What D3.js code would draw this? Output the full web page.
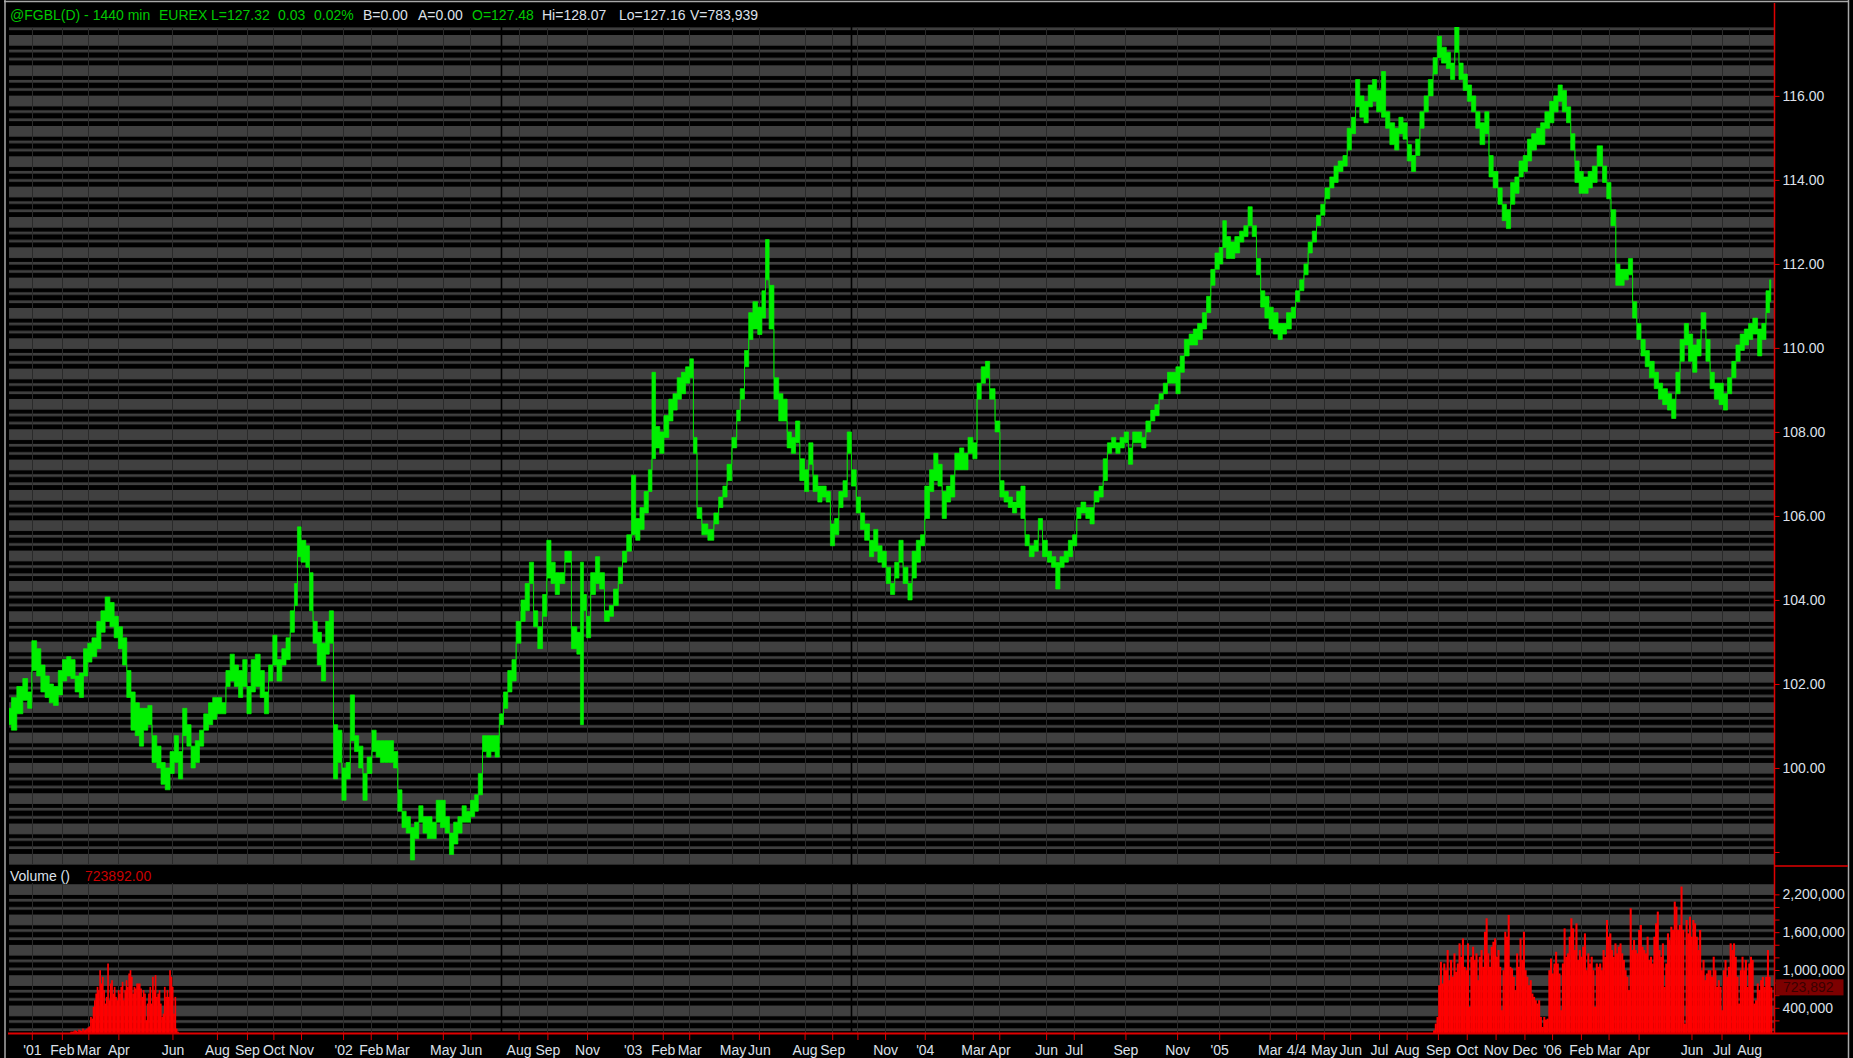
<!DOCTYPE html>
<html>
<head>
<meta charset="utf-8">
<script src="https://cdn.jsdelivr.net/npm/d3@7"></script>
<style>
  html, body { margin: 0; padding: 0; background: #000; overflow: hidden; }
  svg { display: block; }
  text { font-family: "Liberation Sans", Arial, sans-serif; font-size: 14px; }
</style>
</head>
<body>
<svg id="chart" width="1853" height="1058"></svg>
<script>

// ---- data ----

var totalBars = 1467

// [bar index, label] of the month ticks on the time axis
var monthTicks = [
  [19,"'01"],[44,"Feb"],[66,"Mar"],[91,"Apr"],[136,"Jun"],[173,"Aug"],[198,"Sep"],[220,"Oct"],[243,"Nov"],
  [278,"'02"],[301,"Feb"],[323,"Mar"],[361,"May"],[384,"Jun"],[424,"Aug"],[448,"Sep"],[481,"Nov"],
  [519,"'03"],[544,"Feb"],[566,"Mar"],[602,"May"],[624,"Jun"],[662,"Aug"],[685,"Sep"],[706,""],[729,"Nov"],
  [762,"'04"],[802,"Mar"],[824,"Apr"],[863,"Jun"],[886,"Jul"],[929,"Sep"],[972,"Nov"],
  [1007,"'05"],[1049,"Mar"],[1071,"4/4"],[1094,"May"],[1116,"Jun"],[1140,"Jul"],[1163,"Aug"],[1189,"Sep"],
  [1213,"Oct"],[1237,"Nov"],[1261,"Dec"],
  [1284,"'06"],[1308,"Feb"],[1331,"Mar"],[1356,"Apr"],[1400,"Jun"],[1425,"Jul"],[1448,"Aug"]
]

// bars where the continuous contract rolls (black separators)
var sessionBreaks = [409, 701]

var priceTicks = [98, 100, 102, 104, 106, 108, 110, 112, 114, 116]
var priceLabelMin = 100

var volTicks = [200000, 400000, 600000, 800000, 1000000, 1200000, 1400000, 1600000, 1800000, 2000000, 2200000]
var volLabels = [400000, 1000000, 1600000, 2200000]
var lastVolume = 723892

// sampled bars: [bar index, high, low]
var priceBars = [
  [0,101.42,101.03],[4,101.68,100.90],[9,101.94,101.29],[14,102.13,101.61],[17,101.81,101.42],
  [21,103.03,102.32],[25,102.84,102.19],[28,102.45,101.81],[32,102.19,101.68],[35,102.00,101.55],
  [39,101.94,101.49],[43,102.32,101.74],[46,102.58,102.07],[50,102.65,102.19],[53,102.58,102.13],
  [57,102.19,101.81],[60,102.26,101.68],[64,102.84,102.19],[67,102.97,102.52],[71,103.10,102.65],
  [75,103.49,102.84],[78,103.74,103.23],[82,104.07,103.49],[86,103.94,103.36],[89,103.61,103.10],
  [93,103.36,102.84],[96,103.10,102.45],[100,102.32,101.68],[103,101.81,100.90],[107,101.55,100.77],
  [110,101.42,100.52],[114,101.42,100.90],[117,101.49,101.03],[121,100.77,100.13],[125,100.52,100.00],
  [128,100.13,99.61],[132,100.00,99.48],[136,100.39,99.87],[139,100.77,100.13],[143,100.39,99.74],
  [146,101.42,100.77],[150,101.03,100.52],[153,100.52,100.00],[157,100.65,100.13],[160,100.90,100.52],
  [164,101.29,100.90],[168,101.55,101.03],[171,101.68,101.16],[175,101.68,101.29],[179,101.55,101.29],
  [182,102.32,101.94],[186,102.71,102.07],[189,102.45,101.94],[193,102.32,101.68],[196,102.58,101.94],
  [200,101.94,101.29],[203,102.58,101.81],[207,102.71,101.94],[211,102.32,101.68],[214,101.81,101.29],
  [218,102.45,102.07],[221,103.16,102.45],[225,102.58,102.07],[229,102.84,102.45],[232,103.10,102.58],
  [236,103.74,103.23],[239,104.39,103.87],[241,105.74,105.03],[245,105.42,104.90],[249,105.29,104.78],
  [251,104.65,103.74],[255,103.49,102.97],[258,103.23,102.45],[262,102.97,102.07],[265,103.49,102.71],
  [268,103.74,102.97],[272,101.03,99.74],[275,100.90,100.13],[279,100.00,99.23],[282,100.13,99.74],
  [286,101.74,100.65],[289,100.77,100.39],[293,100.52,100.00],[296,99.87,99.23],[300,100.26,99.87],
  [304,100.90,100.39],[307,100.65,100.26],[311,100.65,100.13],[314,100.65,100.13],[318,100.65,100.13],
  [322,100.39,100.00],[325,99.48,98.97],[329,98.97,98.58],[332,98.84,98.45],[336,98.58,97.81],
  [339,98.71,98.32],[343,99.10,98.71],[346,98.84,98.45],[350,98.84,98.32],[354,98.71,98.32],
  [357,99.23,98.71],[361,99.23,98.58],[365,98.84,98.45],[368,98.45,97.94],[372,98.71,98.19],
  [375,98.84,98.45],[379,99.10,98.71],[382,98.97,98.71],[386,99.23,98.84],[389,99.36,98.97],
  [392,99.87,99.36],[396,100.77,100.39],[399,100.77,100.26],[403,100.77,100.39],[406,100.77,100.26],
  [410,101.29,101.03],[413,101.81,101.42],[417,102.32,101.81],[420,102.58,102.07],[424,103.49,102.97],
  [428,104.00,103.49],[431,104.39,103.74],[435,104.90,104.39],[438,103.74,103.36],[442,103.36,102.84],
  [446,104.13,103.61],[449,105.42,104.52],[453,104.90,104.39],[456,104.65,104.13],[460,104.65,104.39],
  [465,105.16,104.90],[471,103.36,102.84],[474,103.23,102.71],[477,104.90,101.03],[479,104.13,103.74],
  [482,103.61,103.10],[486,104.65,104.13],[490,105.03,104.39],[493,104.65,104.26],[498,103.74,103.49],
  [501,103.87,103.61],[505,104.26,103.87],[509,104.78,104.39],[512,105.16,104.90],[516,105.55,105.16],
  [520,106.97,105.55],[523,105.94,105.42],[527,106.20,105.68],[530,106.58,106.07],[534,107.10,106.58],
  [536,109.42,107.36],[540,108.13,107.62],[543,108.00,107.49],[547,108.39,107.87],[551,108.78,108.26],
  [554,108.91,108.52],[558,109.29,108.78],[561,109.42,108.91],[565,109.55,109.16],[568,109.74,109.29],
  [571,107.87,107.49],[574,106.20,105.94],[579,105.81,105.55],[584,105.68,105.42],[589,106.07,105.81],
  [592,106.45,106.20],[596,106.71,106.45],[599,107.23,106.84],[604,107.87,107.62],[607,108.52,108.26],
  [610,109.03,108.78],[614,109.94,109.55],[617,110.84,110.20],[621,111.10,110.45],[625,110.97,110.32],
  [628,111.36,110.71],[631,112.58,111.62],[634,111.49,110.45],[639,109.29,108.78],[642,108.91,108.26],
  [646,108.78,108.26],[649,108.00,107.62],[653,107.87,107.49],[656,108.26,107.74],[660,107.36,106.84],
  [664,107.10,106.58],[667,107.74,107.23],[671,106.97,106.58],[675,106.71,106.33],[678,106.71,106.45],
  [682,106.58,106.33],[685,105.81,105.29],[689,105.94,105.55],[692,106.58,106.20],[696,106.84,106.45],
  [699,108.00,107.49],[703,107.10,106.71],[707,106.45,106.07],[710,106.07,105.68],[714,105.81,105.42],
  [718,105.42,105.03],[721,105.68,105.16],[725,105.29,104.90],[728,105.16,104.78],[732,104.78,104.39],
  [735,104.39,104.13],[739,104.90,104.52],[742,105.42,104.90],[746,104.78,104.39],[750,104.39,104.00],
  [753,105.16,104.52],[757,105.42,104.90],[760,105.55,105.29],[764,106.71,105.94],[768,107.10,106.58],
  [771,107.49,106.84],[775,107.23,106.71],[778,106.58,105.94],[782,106.71,106.33],[785,106.97,106.45],
  [789,107.49,107.10],[793,107.62,107.10],[796,107.49,107.10],[800,107.87,107.49],[804,107.74,107.36],
  [807,109.16,108.78],[811,109.55,109.16],[814,109.68,109.29],[818,109.03,108.78],[823,108.26,108.00],
  [826,106.84,106.45],[830,106.58,106.33],[833,106.45,106.20],[837,106.33,106.07],[840,106.58,106.20],
  [844,106.71,105.94],[847,105.55,105.29],[851,105.29,105.03],[855,105.42,105.16],[858,105.94,105.68],
  [862,105.42,105.03],[866,105.16,104.90],[869,105.03,104.78],[873,104.90,104.26],[876,105.03,104.78],
  [880,105.16,104.90],[883,105.42,105.03],[887,105.55,105.29],[890,106.20,105.94],[894,106.33,106.07],
  [898,106.20,105.94],[901,106.20,105.81],[905,106.58,106.33],[909,106.71,106.45],[912,107.36,106.84],
  [916,107.74,107.49],[919,107.87,107.62],[923,107.74,107.49],[926,107.87,107.62],[930,108.00,107.74],
  [933,107.62,107.23],[937,108.00,107.74],[941,108.00,107.74],[944,107.87,107.62],[948,108.26,108.00],
  [952,108.52,108.26],[955,108.65,108.39],[959,108.91,108.78],[962,109.16,108.91],[966,109.42,109.16],
  [969,109.42,109.16],[973,109.55,108.91],[976,109.81,109.42],[980,110.20,109.81],[984,110.33,110.07],
  [987,110.45,110.07],[991,110.58,110.20],[995,110.84,110.45],[998,111.23,110.84],[1002,111.87,111.49],
  [1005,112.26,111.87],[1009,112.39,112.00],[1011,113.03,112.39],[1015,112.65,112.13],[1018,112.52,112.13],
  [1022,112.65,112.26],[1026,112.78,112.52],[1029,112.91,112.65],[1033,113.36,112.91],[1036,112.91,112.65],
  [1040,112.13,111.74],[1043,111.36,110.97],[1047,111.23,110.71],[1050,110.97,110.45],[1054,110.84,110.33],
  [1058,110.58,110.20],[1061,110.58,110.33],[1065,110.84,110.45],[1069,110.97,110.71],[1072,111.36,111.10],
  [1076,111.62,111.36],[1079,112.00,111.74],[1083,112.52,112.26],[1086,112.78,112.52],[1090,113.16,112.91],
  [1093,113.42,113.16],[1097,113.81,113.55],[1101,114.07,113.81],[1104,114.33,113.94],[1108,114.45,114.20],
  [1112,114.58,114.33],[1115,115.23,114.71],[1119,115.49,115.10],[1122,116.39,115.74],[1126,116.00,115.49],
  [1129,115.87,115.36],[1133,116.26,115.74],[1136,116.39,115.87],[1140,116.13,115.62],[1144,116.58,115.49],
  [1147,115.62,115.23],[1151,115.36,114.84],[1155,115.23,114.71],[1158,115.49,115.10],[1162,115.36,114.97],
  [1165,114.84,114.45],[1169,114.58,114.20],[1172,114.97,114.58],[1176,115.62,115.23],[1179,116.00,115.62],
  [1183,116.39,116.00],[1187,116.91,116.52],[1190,117.42,116.91],[1194,117.16,116.78],[1198,117.04,116.65],
  [1201,116.78,116.39],[1205,117.75,117.04],[1208,116.78,116.39],[1212,116.52,116.13],[1215,116.26,115.87],
  [1219,116.00,115.62],[1222,115.62,115.23],[1226,115.36,114.84],[1230,115.62,115.10],[1233,114.58,114.07],
  [1237,114.20,113.81],[1241,113.81,113.42],[1244,113.42,113.03],[1248,113.29,112.84],[1251,113.94,113.42],
  [1255,114.07,113.68],[1258,114.45,114.07],[1262,114.58,114.20],[1265,114.97,114.45],[1269,115.10,114.71],
  [1273,115.23,114.84],[1276,115.36,114.84],[1280,115.62,115.23],[1284,115.87,115.36],[1287,116.00,115.62],
  [1291,116.26,115.87],[1294,116.13,115.62],[1298,115.74,115.36],[1301,115.10,114.71],[1305,114.45,113.94],
  [1308,114.20,113.68],[1312,114.07,113.68],[1316,114.20,113.81],[1319,114.33,113.94],[1324,114.81,114.33],
  [1328,114.33,113.94],[1331,113.94,113.55],[1335,113.29,112.91],[1339,112.00,111.49],[1342,111.87,111.49],
  [1346,111.87,111.62],[1349,112.13,111.74],[1353,111.10,110.71],[1356,110.58,110.20],[1360,110.20,109.81],
  [1363,109.94,109.55],[1367,109.68,109.29],[1371,109.42,109.03],[1374,109.16,108.78],[1378,109.03,108.65],
  [1382,108.91,108.52],[1385,108.78,108.32],[1389,109.42,108.91],[1392,110.20,109.68],[1396,110.58,110.07],
  [1399,110.33,109.68],[1403,110.07,109.42],[1406,110.20,109.81],[1410,110.84,110.45],[1414,110.20,109.68],
  [1417,109.42,109.03],[1421,109.16,108.78],[1425,109.16,108.65],[1428,108.91,108.52],[1432,109.29,108.91],
  [1435,109.68,109.29],[1439,110.07,109.68],[1442,110.33,109.94],[1446,110.45,110.07],[1449,110.58,110.20],
  [1453,110.71,110.33],[1457,110.45,109.81],[1460,110.58,110.20],[1464,111.36,110.84],[1466,111.62,111.10]
]

// daily volume (thousands of contracts), two stretches where the feed has it
var vol2001Span = [51, 141]
var vol2001K = [
  21,21,26,42,32,21,53,42,32,69,42,53,69,90,106,255,228,414,520,626,732,679,997,785,891,679,467,573,
  1103,520,785,838,626,732,573,520,679,626,732,812,520,679,838,732,944,997,891,626,732,706,785,785,
  785,706,573,679,626,202,467,626,732,467,891,679,918,573,626,679,467,255,308,732,573,679,573,997,
  891,732,308,573,69,21
]

var vol2005Span = [1185, 1467]
var vol2005K = [
  42,149,255,759,1130,785,1103,997,1316,838,1157,891,1263,971,1103,1422,1210,1501,1050,997,1422,414,
  1210,1369,1157,1263,838,1210,1316,1050,1607,1820,1263,1050,1369,1448,1501,1210,1316,1050,361,997,
  1607,1528,1873,1050,1024,891,679,1263,1050,1501,1157,1607,997,891,759,838,626,573,520,467,520,255,
  95,255,212,228,997,1183,944,1103,1289,1103,944,361,1103,1660,1210,1263,1528,1820,1660,1316,1740,
  1157,1316,1210,1369,1581,997,1263,1103,1210,997,414,1103,1050,1103,997,1316,1210,1793,1528,1581,
  1316,1210,1422,1263,1369,1422,1263,1157,997,891,679,1979,1316,1475,1316,1263,1634,1714,1369,1316,
  1263,1528,1157,1210,1103,1528,1740,1926,1316,1210,1422,732,1103,1581,1475,1687,1634,2085,2005,1634,
  1714,2324,1634,149,1793,1581,1846,1528,1793,1740,1528,1316,1634,997,1157,838,944,997,997,891,1210,
  997,732,838,732,361,997,1157,891,1050,1422,1316,1422,1210,891,467,997,1210,997,1157,732,1103,1210,
  1157,467,520,785,679,838,891,732,891,1316,891,724
]

var headerItems = [
  ["@FGBL(D) - 1440 min", "g"], ["EUREX", "g"], ["L=127.32", "g"], ["0.03", "g"], ["0.02%", "g"],
  ["B=0.00", "w"], ["A=0.00", "w"], ["O=127.48", "g"], ["Hi=128.07", "w"], ["Lo=127.16", "w"], ["V=783,939", "w"]
]

// ---- layout ----

var W = 1853, H = 1058
var plotL = 9, plotR = 1774
var mainT = 27, mainB = 865
var volT = 883, volB = 1033
var axisX = 1774.5
var frameR = 1848
var headerX = [10, 159, 211, 278, 314, 363, 418, 472, 542, 619, 690]
var bandPeriod = 30.33, bandPhase = 35

var green = "#00f000"
var textGreen = "#00c800"
var textGrey = "#dde0ea"
var axisRed = "#e00000"

var svg = d3.select("#chart")

svg.append("rect").attr("width", W).attr("height", H).attr("fill", "#000")

// striped panel texture
var defs = svg.append("defs")
var pat = defs.append("pattern")
  .attr("id", "bands")
  .attr("patternUnits", "userSpaceOnUse")
  .attr("x", 0).attr("y", bandPhase)
  .attr("width", 40).attr("height", bandPeriod)
pat.append("rect").attr("y", 0).attr("width", 40).attr("height", 10.7).attr("fill", "#404040")
pat.append("rect").attr("y", 14.6).attr("width", 40).attr("height", 2.7).attr("fill", "#404040")
pat.append("rect").attr("y", 22.8).attr("width", 40).attr("height", 2.7).attr("fill", "#404040")

defs.append("clipPath").attr("id", "mainClip")
  .append("rect").attr("x", plotL).attr("y", mainT).attr("width", plotR - plotL).attr("height", mainB - mainT)

svg.append("rect").attr("x", plotL).attr("y", mainT).attr("width", plotR - plotL).attr("height", mainB - mainT)
  .attr("fill", "url(#bands)")
svg.append("rect").attr("x", plotL).attr("y", volT).attr("width", plotR - plotL).attr("height", volB - volT)
  .attr("fill", "url(#bands)")

// scales
var x = d3.scaleLinear().domain([0, totalBars]).range([plotL, 1772])
var y = d3.scaleLinear().domain([97.69, 117.64]).range([mainB, mainT])
var yVol = d3.scaleLinear().domain([0, 2380000]).range([volB, volT])

// month grid lines
var grid = svg.append("g")
monthTicks.forEach(function(t) {
  var gx = Math.round(x(t[0])) + 0.5
  grid.append("line").attr("x1", gx).attr("x2", gx).attr("y1", mainT).attr("y2", mainB)
    .attr("stroke", "#2a2a2a").attr("stroke-width", 1)
  grid.append("line").attr("x1", gx).attr("x2", gx).attr("y1", volT).attr("y2", volB)
    .attr("stroke", "#2a2a2a").attr("stroke-width", 1)
})

sessionBreaks.forEach(function(b) {
  var sx = Math.round(x(b)) + 0.5
  svg.append("line").attr("x1", sx).attr("x2", sx).attr("y1", mainT).attr("y2", volB)
    .attr("stroke", "#000").attr("stroke-width", 1.6)
})

// price bars as a stepped high/low ribbon
var ribbon = d3.area()
  .curve(d3.curveStep)
  .x(function(d) { return x(d[0]); })
  .y0(function(d) { return y(d[2]); })
  .y1(function(d) { return y(d[1]); })

svg.append("path")
  .datum(priceBars)
  .attr("clip-path", "url(#mainClip)")
  .attr("d", ribbon)
  .attr("fill", green)
  .attr("stroke", green)
  .attr("stroke-width", 0.7)
  .attr("stroke-linejoin", "miter")

// volume histogram
function drawVolume(span, valuesK) {
  var step = (span[1] - span[0]) / valuesK.length
  var barW = x(step) - x(0)
  svg.append("g").selectAll("rect").data(valuesK).enter().append("rect")
    .attr("x", function(d, i) { return x(span[0] + i * step); })
    .attr("width", barW + 0.35)
    .attr("y", function(d) { return yVol(d * 1000); })
    .attr("height", function(d) { return yVol(0) - yVol(d * 1000); })
    .attr("fill", "#ff0000")
}
drawVolume(vol2001Span, vol2001K)
drawVolume(vol2005Span, vol2005K)

// frame and axis lines
svg.append("line").attr("x1", 5).attr("x2", 5).attr("y1", 0).attr("y2", H)
  .attr("stroke", "#a8a8a8").attr("stroke-width", 1.5)
svg.append("line").attr("x1", 4).attr("x2", frameR + 1).attr("y1", 1.5).attr("y2", 1.5)
  .attr("stroke", "#a8a8a8").attr("stroke-width", 1.5)
svg.append("line").attr("x1", frameR + 0.5).attr("x2", frameR + 0.5).attr("y1", 0).attr("y2", H)
  .attr("stroke", "#a8a8a8").attr("stroke-width", 1.5)

svg.append("line").attr("x1", axisX).attr("x2", axisX).attr("y1", 3).attr("y2", volB + 1)
  .attr("stroke", axisRed).attr("stroke-width", 1.5)
svg.append("line").attr("x1", axisX).attr("x2", frameR).attr("y1", 866).attr("y2", 866)
  .attr("stroke", axisRed).attr("stroke-width", 1.5)
svg.append("line").attr("x1", plotL - 1).attr("x2", frameR).attr("y1", volB + 0.5).attr("y2", volB + 0.5)
  .attr("stroke", axisRed).attr("stroke-width", 2)

// price axis
var priceAxis = svg.append("g")
  .attr("transform", "translate(" + axisX + ",0)")
  .call(d3.axisRight(y)
    .tickValues(priceTicks)
    .tickSize(5)
    .tickPadding(3)
    .tickFormat(function(d) { return d >= priceLabelMin ? d3.format(".2f")(d) : ""; }))
priceAxis.select(".domain").remove()
priceAxis.selectAll("line").attr("stroke", axisRed)
priceAxis.selectAll("text").attr("fill", textGrey)
  .style("font-family", "'Liberation Sans', Arial, sans-serif").style("font-size", "14px")

// volume axis
var volAxis = svg.append("g")
  .attr("transform", "translate(" + axisX + ",0)")
  .call(d3.axisRight(yVol)
    .tickValues(volTicks)
    .tickSize(5)
    .tickPadding(3)
    .tickFormat(function(d) { return volLabels.indexOf(d) >= 0 ? d3.format(",")(d) : ""; }))
volAxis.select(".domain").remove()
volAxis.selectAll("line").attr("stroke", axisRed)
volAxis.selectAll("text").attr("fill", textGrey)
  .style("font-family", "'Liberation Sans', Arial, sans-serif").style("font-size", "14px")

// last volume marker
var lastY = yVol(lastVolume)
svg.append("rect").attr("x", axisX + 1).attr("y", lastY - 8).attr("width", 68).attr("height", 16)
  .attr("fill", "#7d0000")
svg.append("text").attr("x", 1783).attr("y", lastY + 5)
  .attr("fill", "#3a0000")
  .text(d3.format(",")(lastVolume))

// time axis
var labelByBar = {}
monthTicks.forEach(function(t) { labelByBar[t[0]] = t[1]; })
var timeAxis = svg.append("g")
  .attr("transform", "translate(0," + (volB + 1) + ")")
  .call(d3.axisBottom(x)
    .tickValues(monthTicks.map(function(t) { return t[0]; }))
    .tickSize(6)
    .tickPadding(5)
    .tickFormat(function(d) { return labelByBar[d]; }))
timeAxis.select(".domain").remove()
timeAxis.selectAll("line").attr("stroke", axisRed)
timeAxis.selectAll("text").attr("fill", textGrey)
  .style("font-family", "'Liberation Sans', Arial, sans-serif").style("font-size", "14px")

// header and panel captions
var header = svg.append("g")
headerItems.forEach(function(h, i) {
  header.append("text")
    .attr("x", headerX[i]).attr("y", 19.5)
    .attr("fill", h[1] == "g" ? textGreen : textGrey)
    .text(h[0])
})

svg.append("text").attr("x", 10).attr("y", 881).attr("fill", textGrey).text("Volume ()")
svg.append("text").attr("x", 85).attr("y", 881).attr("fill", "#c80000").text(d3.format(".2f")(lastVolume))

</script>
</body>
</html>
